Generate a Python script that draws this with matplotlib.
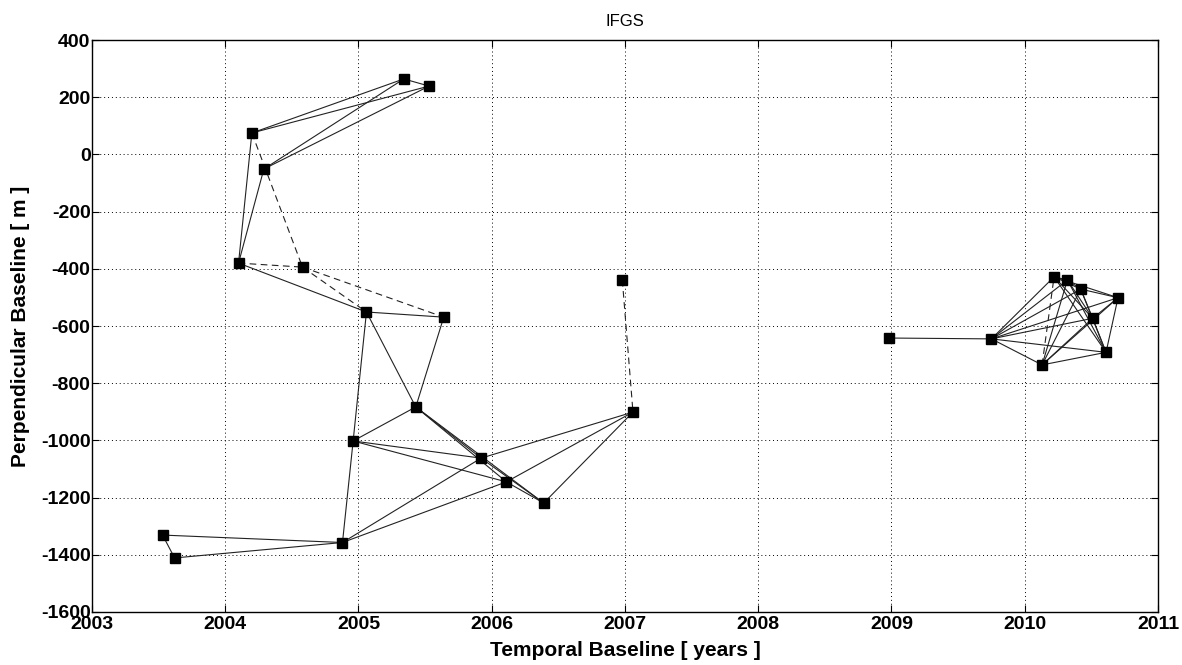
import matplotlib
matplotlib.use("Agg")
import matplotlib.pyplot as plt

# acquisition dates (decimal years) and perpendicular baselines (m)
dates = [2003.53, 2003.62, 2004.10, 2004.20, 2004.29, 2004.58, 2004.88, 2004.96,
         2005.06, 2005.34, 2005.43, 2005.53, 2005.64, 2005.92, 2006.11, 2006.39,
         2006.98, 2007.06, 2008.98, 2009.75, 2010.13, 2010.22, 2010.32, 2010.42,
         2010.51, 2010.61, 2010.70]
baselines = [-1331, -1411, -380, 75, -51, -394, -1357, -1002,
             -551, 264, -883, 239, -569, -1062, -1145, -1219,
             -439, -901, -642, -645, -736, -428, -439, -471,
             -573, -692, -501]

# interferogram pairs (indices into dates/baselines)
solid_pairs = [(0, 1), (0, 6), (1, 6), (2, 3), (2, 4), (2, 8), (3, 9), (3, 11),
               (4, 9), (4, 11), (9, 11), (8, 12), (8, 10), (10, 12), (8, 7),
               (7, 6), (7, 10), (7, 13), (7, 14), (10, 13), (10, 14), (10, 15),
               (13, 15), (14, 15), (6, 13), (6, 14), (13, 17), (14, 17), (15, 17),
               (18, 19),
               (19, 20), (19, 21), (19, 22), (19, 23), (19, 24), (19, 25), (19, 26),
               (20, 22), (20, 23), (20, 24), (20, 25), (20, 26),
               (21, 22), (21, 23), (21, 26), (21, 24), (21, 25),
               (22, 23), (22, 24), (22, 25), (23, 26), (23, 24), (23, 25),
               (26, 24), (26, 25), (24, 25)]
dashed_pairs = [(3, 5), (2, 5), (5, 8), (5, 12), (16, 17), (20, 21)]

xticks = [2003, 2004, 2005, 2006, 2007, 2008, 2009, 2010, 2011]
yticks = [400, 200, 0, -200, -400, -600, -800, -1000, -1200, -1400, -1600]

plt.rcParams['font.family'] = ['Liberation Sans', 'DejaVu Sans']

fig = plt.figure(figsize=(11.82, 6.65), dpi=100)
ax = fig.add_axes([0.0778, 0.0797, 0.9019, 0.8601])

for i, j in solid_pairs:
    ax.plot([dates[i], dates[j]], [baselines[i], baselines[j]],
            color='#222222', lw=0.8, zorder=2)
for i, j in dashed_pairs:
    ax.plot([dates[i], dates[j]], [baselines[i], baselines[j]],
            color='#222222', lw=0.8, ls=(0, (6, 4)), zorder=2)

ax.plot(dates, baselines, ls='none', marker='s', ms=7, color='black', zorder=3)

ax.set_xlim(2003, 2011)
ax.set_ylim(-1600, 400)
ax.set_xticks(xticks)
ax.set_yticks(yticks)
ax.set_xticklabels([str(t) for t in xticks], fontweight='bold', fontsize=14)
ax.set_yticklabels([str(t) for t in yticks], fontweight='bold', fontsize=14)
ax.tick_params(axis='x', direction='in', top=True, length=5, width=0.8, pad=3)
ax.tick_params(axis='y', direction='in', right=True, length=5, width=0.8, pad=1)
ax.grid(True, color='black', ls=(0, (1, 3)), lw=0.7)
for s in ax.spines.values():
    s.set_linewidth(1.0)

ax.set_title('IFGS', fontsize=12, pad=10)
ax.set_xlabel('Temporal Baseline [ years ]', fontweight='bold', fontsize=15, labelpad=6)
ax.set_ylabel('Perpendicular Baseline [ m ]', fontweight='bold', fontsize=15, labelpad=8)

fig.savefig('out.png', dpi=100, facecolor='white')
